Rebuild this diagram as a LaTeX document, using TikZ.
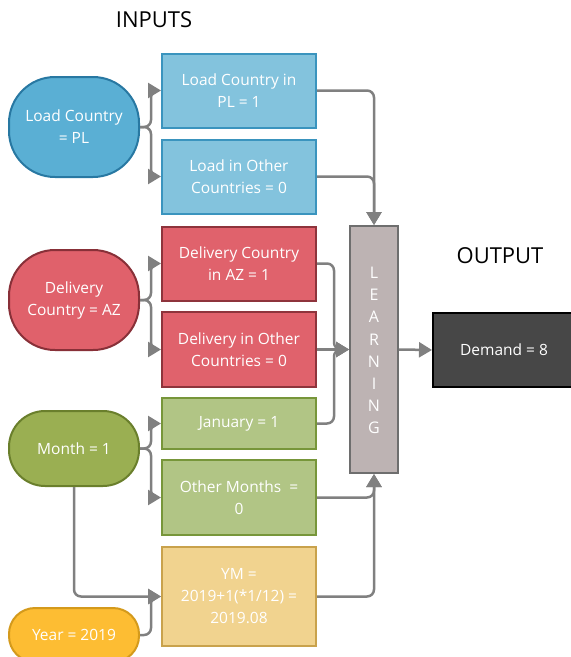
\documentclass[tikz,border=0pt]{standalone}
\usepackage{fontspec}
\setmainfont{Open Sans}
\usetikzlibrary{arrows.meta}
\definecolor{blueE}{HTML}{5AAFD4}
\definecolor{blueEb}{HTML}{2878A2}
\definecolor{blueB}{HTML}{83C3DD}
\definecolor{blueBb}{HTML}{3A94BE}
\definecolor{redE}{HTML}{E0616B}
\definecolor{redEb}{HTML}{883038}
\definecolor{redB}{HTML}{E0626C}
\definecolor{redBb}{HTML}{8E343C}
\definecolor{grnE}{HTML}{9AAF52}
\definecolor{grnEb}{HTML}{6A7F2C}
\definecolor{grnB}{HTML}{B1C585}
\definecolor{grnBb}{HTML}{77963A}
\definecolor{ylwB}{HTML}{F1D38F}
\definecolor{ylwBb}{HTML}{C9A24C}
\definecolor{ylwE}{HTML}{FDBD33}
\definecolor{ylwEb}{HTML}{D49A1C}
\definecolor{lrnF}{HTML}{BDB3B3}
\definecolor{lrnB}{HTML}{6E6E6E}
\definecolor{demF}{HTML}{474747}
\definecolor{conn}{HTML}{808080}
\tikzset{
  txt/.style={text=white,align=center,font=\fontsize{15.5}{22}\selectfont,inner sep=0pt},
  inbox/.style={txt,rectangle,line width=2pt,minimum width=154pt},
  oval/.style={txt,rectangle,line width=2pt,minimum width=130pt},
  conn/.style={draw=conn,line width=2.5pt,rounded corners=7pt,-{Triangle[length=13pt,width=15pt]}},
  title/.style={font=\fontsize{22}{26}\selectfont,text=black,inner sep=0pt}
}
\begin{document}
\begin{tikzpicture}[x=1pt,y=-1pt]
\useasboundingbox (0,0) rectangle (571,657);
\begin{scope}
\clip (0,0) rectangle (571,657);
% titles
\node[title] (tin) at (154,20) {INPUTS};
\node[title] (tout) at (500,256) {OUTPUT};
% blue
\node[oval,fill=blueE,draw=blueEb,minimum height=100pt,rounded corners=46pt] (lc) at (74,127) {Load Country\\= PL};
\node[inbox,fill=blueB,draw=blueBb,minimum height=74pt] (b1) at (239,90.5) {Load Country in\\PL = 1};
\node[inbox,fill=blueB,draw=blueBb,minimum height=74pt] (b2) at (239,176.5) {Load in Other\\Countries = 0};
% red
\node[oval,fill=redE,draw=redEb,minimum height=100pt,rounded corners=46pt] (dc) at (74,300) {Delivery\\Country = AZ};
\node[inbox,fill=redB,draw=redBb,minimum height=74pt] (r1) at (239,263.5) {Delivery Country\\in AZ = 1};
\node[inbox,fill=redB,draw=redBb,minimum height=75pt] (r2) at (239,349.5) {Delivery in Other\\Countries = 0};
% green
\node[oval,fill=grnE,draw=grnEb,minimum height=75pt,rounded corners=36pt] (mo) at (74,448.5) {Month = 1};
\node[inbox,fill=grnB,draw=grnBb,minimum height=51pt] (jan) at (239,423.5) {January = 1};
\node[inbox,fill=grnB,draw=grnBb,minimum height=75pt] (om) at (239,497.5) {Other Months~~=\\0};
% yellow
\node[inbox,fill=ylwB,draw=ylwBb,minimum height=99pt] (ym) at (239,596.5) {YM =\\2019+1(*1/12) =\\2019.08};
\node[oval,fill=ylwE,draw=ylwEb,minimum height=54pt,rounded corners=26pt] (yr) at (74,635) {Year = 2019};
% learning
\node[rectangle,fill=lrnF,draw=lrnB,line width=2pt,minimum width=48pt,minimum height=247pt,inner sep=0pt] (lrn) at (374,349.5) {};
\foreach \l [count=\i from 0] in {L,E,A,R,N,I,N,G}
  \node[text=white,font=\fontsize{16}{16}\selectfont,inner sep=0pt] (lt\i) at (374,273+22.1*\i) {\l};
% demand
\node[txt,rectangle,fill=demF,draw=black,line width=2pt,minimum width=142pt,minimum height=74pt] (dem) at (504,350) {Demand = 8};
% connectors
\draw[conn] (lc.east) -- ([xshift=11pt]lc.east) |- (b1.west);
\draw[conn] (lc.east) -- ([xshift=11pt]lc.east) |- (b2.west);
\draw[conn] (dc.east) -- ([xshift=11pt]dc.east) |- (r1.west);
\draw[conn] (dc.east) -- ([xshift=11pt]dc.east) |- (r2.west);
\draw[conn] (mo.east) -- ([xshift=11pt]mo.east) |- (jan.west);
\draw[conn] (mo.east) -- ([xshift=11pt]mo.east) |- (om.west);
\draw[conn] (mo.south) |- (ym.west);
\draw[conn] (yr.east) -- ([xshift=11pt]yr.east) |- (ym.west);
\draw[conn] (b1.east) -| (lrn.north);
\draw[conn] (b2.east) -| (lrn.north);
\draw[conn] (r1.east) -- ([xshift=17pt]r1.east) |- (lrn.west);
\draw[conn] (r2.east) -- (lrn.west);
\draw[conn] (jan.east) -- ([xshift=17pt]jan.east) |- (lrn.west);
\draw[conn] (om.east) -| (lrn.south);
\draw[conn] (ym.east) -| (lrn.south);
\draw[conn] (lrn.east) -- (dem.west);
\end{scope}
\end{tikzpicture}
\end{document}
